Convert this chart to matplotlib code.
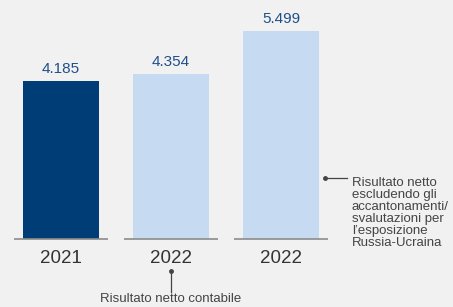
#!/usr/bin/env python3
"""Net result bar chart, 2021 vs 2022 (reported and adjusted)."""

import matplotlib

matplotlib.use("Agg")
import matplotlib.pyplot as plt
from matplotlib.transforms import ScaledTranslation

plt.rcParams["font.family"] = ["Liberation Sans", "DejaVu Sans"]

years = ["2021", "2022", "2022"]
values = [4.185, 4.354, 5.499]
value_labels = ["4.185", "4.354", "5.499"]
bar_colors = ["#003c75", "#c6daf1", "#c6daf1"]
note_right = ("Risultato netto\nescludendo gli\naccantonamenti/\n"
              "svalutazioni per\nl\u2019esposizione\nRussia-Ucraina")
note_bottom = "Risultato netto contabile"

BG = "#f1f1f1"

fig = plt.figure(figsize=(4.53, 3.07), dpi=100, facecolor=BG)
ax = fig.add_axes([0, 0, 1, 1])
ax.set_facecolor(BG)

positions = list(range(len(values)))
ax.bar(positions, values, width=0.69, color=bar_colors, zorder=2)
ax.hlines([0] * len(positions), [p - 0.43 for p in positions],
          [p + 0.43 for p in positions], color="#8c8c8c", linewidth=1.2, zorder=3)

for p, v, lab in zip(positions, values, value_labels):
    ax.annotate(lab, (p, v), xytext=(0, 5.5), textcoords="offset points",
                ha="center", va="baseline", fontsize=11, color="#1f4f8a")

for p, yr in zip(positions, years):
    ax.annotate(yr, (p, 0), xytext=(0, -17.5), textcoords="offset points",
                ha="center", va="baseline", fontsize=13.5, color="#333333")

# right-hand note, pointing at the adjusted 2022 bar
ax.plot([2.6, 2.4], [1.606, 1.606], color="#444444", linewidth=0.9)
ax.plot([2.4], [1.606], "o", color="#444444", markersize=2.5)
ax.text(2.645, 1.606, note_right, ha="left", va="top", fontsize=9.5,
        color="#444444", linespacing=1.0,
        transform=ax.transData + ScaledTranslation(0, 1 / 72, fig.dpi_scale_trans))

# bottom note, under the reported 2022 bar
ax.plot([1, 1], [-0.854, -1.415], color="#444444", linewidth=0.9)
ax.plot([1], [-0.854], "o", color="#444444", markersize=2.5)
ax.text(1, -1.60, note_bottom, ha="center", va="center", fontsize=9.5, color="#444444")

ax.set_xlim(-0.5545, 3.5636)
ax.set_ylim(-1.807, 6.315)
ax.axis("off")

fig.savefig("out.png", dpi=100, facecolor=BG)
